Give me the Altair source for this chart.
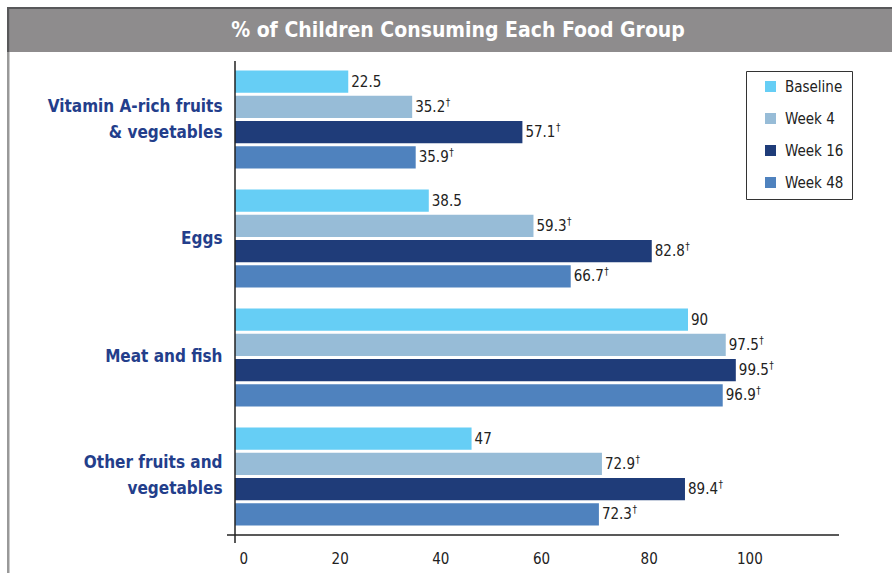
import altair as alt
import pandas as pd

# ---- data ----
categories = ["Vitamin A-rich fruits|& vegetables", "Eggs", "Meat and fish", "Other fruits and|vegetables"]
series = ["Baseline", "Week 4", "Week 16", "Week 48"]
baseline = [22.5, 38.5, 90, 47]
week4 = [35.2, 59.3, 97.5, 72.9]
week16 = [57.1, 82.8, 99.5, 89.4]
week48 = [35.9, 66.7, 96.9, 72.3]
significant = [False, True, True, True]
colors = ["#66cef5", "#97bcd7", "#1f3c79", "#4f82be"]
x_ticks = [0, 20, 40, 60, 80, 100]
title_text = "% of Children Consuming Each Food Group"

values = [baseline, week4, week16, week48]
rows = []
for ci, cat in enumerate(categories):
    for si, s in enumerate(series):
        v = values[si][ci]
        rows.append({"cat": cat, "series": s, "value": v,
                     "label": f"{v:g}", "dagger": "\u2020" if significant[si] else ""})
df = pd.DataFrame(rows)

NARROW = "DejaVu Sans Condensed, Liberation Sans Narrow, sans-serif"
W, H = 604, 474
L, T = 235, 61
R, B = 892 - L - W, 573 - T - H

y_enc = alt.Y("cat:N", sort=categories,
              scale=alt.Scale(paddingInner=0.176, paddingOuter=0.08),
              axis=alt.Axis(title=None, domain=False, ticks=False, grid=False,
                            labelExpr="split(datum.label, '|')",
                            labelFont=NARROW, labelFontSize=17, labelFontWeight="bold",
                            labelColor="#233e8b", labelPadding=13, labelLineHeight=26,
                            labelLimit=300,
                            labelOffset={"condition": {"test": "indexof(datum.value, '|') >= 0",
                                                       "value": -13},
                                         "value": 0}))
yoff = alt.YOffset("series:N", sort=series,
                   scale=alt.Scale(paddingInner=0.12, paddingOuter=0.0))
x_enc = alt.X("value:Q", scale=alt.Scale(domain=[0, 120], nice=False),
              axis=alt.Axis(values=x_ticks, title=None, domain=False, ticks=False, grid=False,
                            labelFont=NARROW, labelFontSize=15, labelColor="#222222",
                            labelPadding=16,
                            labelOffset={"condition": {"test": "datum.value >= 80", "value": 11},
                                         "value": 4}))

base = alt.Chart(df)

bars = base.mark_bar().encode(
    x=x_enc, y=y_enc, yOffset=yoff,
    color=alt.Color("series:N", scale=alt.Scale(domain=series, range=colors),
                    legend=alt.Legend(orient="none", legendX=511, legendY=10, title=None,
                                      direction="vertical", symbolType="square",
                                      symbolSize=121, symbolStrokeWidth=0,
                                      labelFont=NARROW, labelFontSize=15,
                                      labelColor="#222222", padding=8,
                                      strokeColor="#333333", fillColor="white",
                                      rowPadding=16, symbolOffset=9, labelOffset=7,
                                      labelExpr="datum.label + '\u2002\u2002'")),
)

labels = base.mark_text(align="left", baseline="middle", dx=3, fontSize=15,
                        font=NARROW, color="#222222").encode(
    x="value:Q", y=alt.Y("cat:N", sort=categories), yOffset=alt.YOffset("series:N", sort=series),
    text="label:N")

daggers = base.transform_filter("datum.dagger != ''").mark_text(
    align="left", baseline="middle", dx=33.5, dy=-4, fontSize=10,
    font=NARROW, color="#222222").encode(
    x="value:Q", y=alt.Y("cat:N", sort=categories), yOffset=alt.YOffset("series:N", sort=series),
    text="dagger:N")

deco = alt.Chart(alt.Data(values=[{}]))
y_line = deco.mark_rule(color="#222222", strokeWidth=1.5).encode(
    x=alt.value(0), y=alt.value(0), y2=alt.value(H + 8))
x_line = deco.mark_rule(color="#222222", strokeWidth=1.5).encode(
    x=alt.value(-8), x2=alt.value(W), y=alt.value(H))
frame_left = deco.mark_rect(color="#999999").encode(
    x=alt.value(7 - L), x2=alt.value(9.5 - L), y=alt.value(7 - T), y2=alt.value(573 - T))
frame_top = deco.mark_rect(color="#58585a").encode(
    x=alt.value(7 - L), x2=alt.value(892 - L), y=alt.value(7 - T), y2=alt.value(9 - T))
title_bar = deco.mark_rect(color="#8e8c8d").encode(
    x=alt.value(9.5 - L), x2=alt.value(892 - L), y=alt.value(9 - T), y2=alt.value(52 - T))
title_edge = deco.mark_rect(color="#58585a").encode(
    x=alt.value(7 - L), x2=alt.value(9.5 - L), y=alt.value(7 - T), y2=alt.value(52 - T))
title = deco.mark_text(text=title_text, font=NARROW, fontSize=21, fontWeight="bold",
                       color="white", align="center", baseline="middle").encode(
    x=alt.value(458 - L), y=alt.value(31 - T))

chart = alt.layer(frame_left, frame_top, title_bar, title_edge, title,
                  bars, labels, daggers, y_line, x_line).properties(
    width=W, height=H,
    autosize=alt.AutoSizeParams(type="none"),
    padding={"left": L, "top": T, "right": R, "bottom": B},
    background="white",
).configure_view(stroke=None)

chart.save("out.html", embed_options={"renderer": "svg", "actions": False})
